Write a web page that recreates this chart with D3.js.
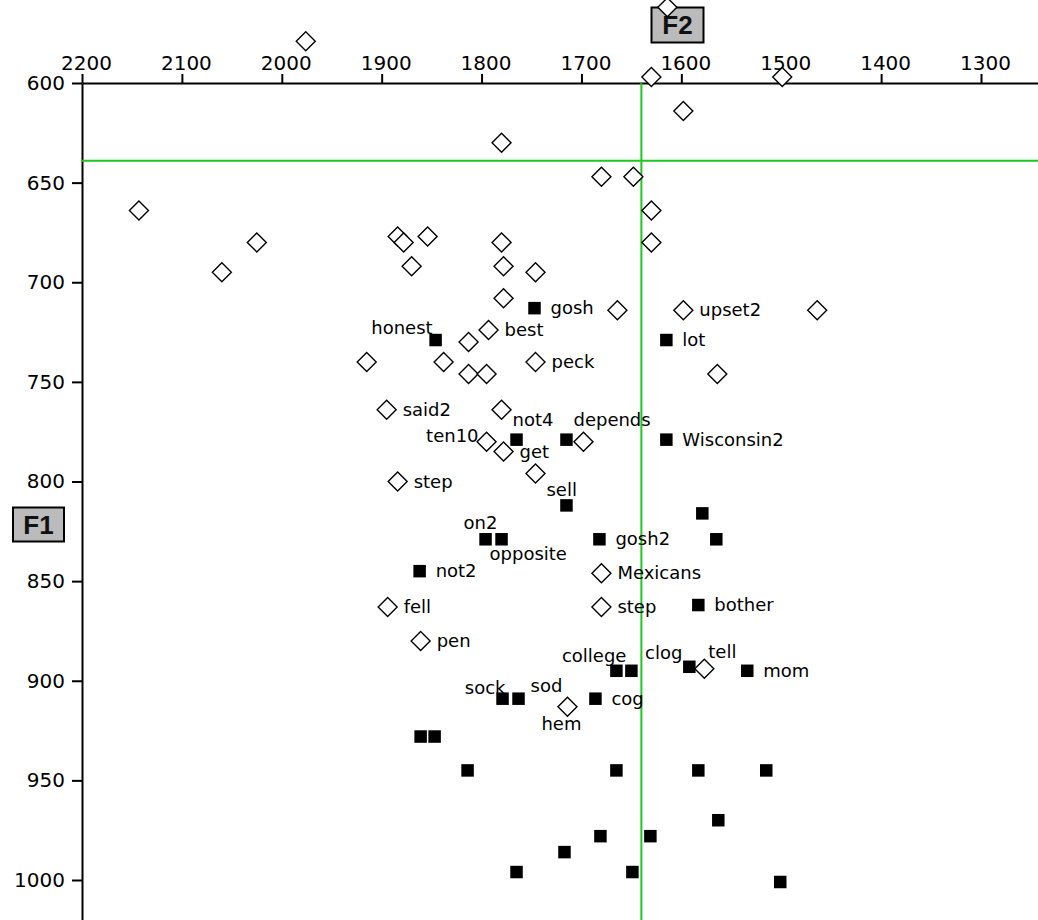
<!DOCTYPE html>
<html>
<head>
<meta charset="utf-8">
<script src="https://cdn.jsdelivr.net/npm/d3@7"></script>
<style>
  body { margin: 0; background: #fff; }
  svg { display: block; }
</style>
</head>
<body>
<svg id="chart" width="1038" height="920"></svg>
<script>
// ---------------- DATA ----------------
const xTicks = [2200, 2100, 2000, 1900, 1800, 1700, 1600, 1500, 1400, 1300];
const yTicks = [600, 650, 700, 750, 800, 850, 900, 950, 1000];
const xAxisTitle = "F2";
const yAxisTitle = "F1";
const refF2 = 1640;   // vertical green reference line
const refF1 = 639;    // horizontal green reference line

// open diamonds
const openLabels = ["", "", "", "", "", "", "", "", "", "",
                    "", "", "", "", "", "", "", "", "", "",
                    "", "", "upset2", "", "best", "", "", "", "", "",
                    "peck", "", "said2", "", "ten10", "get", "", "", "step", "Mexicans",
                    "step", "fell", "pen", "tell", "hem"];
const openF2 = [1976, 1614, 1630, 1499, 1598, 1780, 1680, 1648, 2143, 1630,
                1630, 2025, 2060, 1884, 1878, 1854, 1870, 1780, 1778, 1746,
                1778, 1664, 1598, 1464, 1793, 1813, 1915, 1838, 1813, 1795,
                1746, 1564, 1895, 1780, 1795, 1778, 1698, 1746, 1884, 1680,
                1680, 1894, 1861, 1577, 1714];
const openF1 = [579, 562, 597, 597, 614, 630, 647, 647, 664, 664,
                680, 680, 695, 677, 680, 677, 692, 680, 692, 695,
                708, 714, 714, 714, 724, 730, 740, 740, 746, 746,
                740, 746, 764, 764, 780, 785, 780, 796, 800, 846,
                863, 863, 880, 894, 913];

// filled squares
const filledLabels = ["gosh", "honest", "lot", "Wisconsin2", "not4", "depends", "sell", "on2", "opposite", "gosh2",
                      "not2", "", "", "bother", "college", "", "clog", "mom", "sock", "sod",
                      "cog", "", "", "", "", "", "", "", "", "",
                      "", "", "", ""];
const filledF2 = [1747, 1846, 1615, 1615, 1765, 1715, 1715, 1796, 1780, 1682,
                  1862, 1579, 1565, 1583, 1665, 1650, 1592, 1534, 1779, 1763,
                  1686, 1861, 1847, 1814, 1665, 1583, 1515, 1563, 1681, 1631,
                  1717, 1765, 1649, 1501];
const filledF1 = [713, 729, 729, 779, 779, 779, 812, 829, 829, 829,
                  845, 816, 829, 862, 895, 895, 893, 895, 909, 909,
                  909, 928, 928, 945, 945, 945, 945, 970, 978, 978,
                  986, 996, 996, 1001];

// ---------------- LAYOUT / STYLE ----------------
const W = 1038, H = 920;
const labelFont = "'DejaVu Sans', sans-serif";
// label placement relative to marker: [dx, baseline dy, anchor]
const labelPlace = {
  honest:   [-3, -6, "end"],
  not4:     [-4, -14, "start"],
  depends:  [7, -14, "start"],
  ten10:    [-8, 0, "end"],
  sell:     [-20, -9, "start"],
  on2:      [-22, -10, "start"],
  opposite: [-12, 21, "start"],
  college:  [10, -9, "end"],
  clog:     [-7, -8, "end"],
  tell:     [4, -11, "start"],
  sock:     [3, -5, "end"],
  sod:      [12, -7, "start"],
  hem:      [-26, 23, "start"]
};
const defaultPlace = [16, 6, "start"];

const svg = d3.select("#chart");

const x = d3.scaleLinear().domain([2200, 2200 - (W - 82) / 0.9989]).range([82, W]);
const y = d3.scaleLinear().domain([600, 600 + (H - 83) / 1.9925]).range([83, H]);

// axes
const xAxis = svg.append("g").attr("transform", "translate(0,83)")
  .call(d3.axisTop(x).tickValues(xTicks).tickSize(9).tickSizeOuter(0).tickPadding(4).tickFormat(d3.format("d")));
const yAxis = svg.append("g").attr("transform", "translate(82,0)")
  .call(d3.axisLeft(y).tickValues(yTicks).tickSize(10).tickSizeOuter(0).tickPadding(7).tickFormat(d3.format("d")));

[xAxis, yAxis].forEach(g => {
  g.attr("font-family", labelFont).attr("font-size", 20);
  g.select(".domain").attr("stroke", "#000").attr("stroke-width", 2);
  g.selectAll(".tick line").attr("stroke", "#000").attr("stroke-width", 2);
  g.selectAll(".tick text").attr("fill", "#000");
});
xAxis.selectAll(".tick text").attr("dx", 4);

// green reference lines
svg.append("line")
  .attr("x1", x(refF2)).attr("x2", x(refF2))
  .attr("y1", y(600)).attr("y2", H)
  .attr("stroke", "#1ec81e").attr("stroke-width", 2);
svg.append("line")
  .attr("x1", x(2200)).attr("x2", W)
  .attr("y1", y(refF1)).attr("y2", y(refF1))
  .attr("stroke", "#1ec81e").attr("stroke-width", 2);

// axis title boxes
function titleBox(cx, cy, w, h, txt) {
  const g = svg.append("g");
  g.append("rect").attr("x", cx - w / 2).attr("y", cy - h / 2).attr("width", w).attr("height", h)
    .attr("fill", "#bbbbbb").attr("stroke", "#000").attr("stroke-width", 2);
  g.append("text").attr("x", cx).attr("y", cy + 9).attr("text-anchor", "middle")
    .attr("font-family", "'Liberation Sans', Arial, sans-serif").attr("font-weight", "bold")
    .attr("font-size", 26).attr("fill", "#111").text(txt);
}
titleBox(677.5, 25, 52, 35, xAxisTitle);
titleBox(38.5, 524.5, 51, 34, yAxisTitle);

// data points
const openData = openF2.map((v, i) => ({ f2: v, f1: openF1[i], label: openLabels[i] }));
const filledData = filledF2.map((v, i) => ({ f2: v, f1: filledF1[i], label: filledLabels[i] }));

const R = 9.5;
svg.append("g").selectAll("path").data(openData).join("path")
  .attr("d", d => {
    const cx = x(d.f2), cy = y(d.f1);
    return `M${cx},${cy - R}L${cx + R},${cy}L${cx},${cy + R}L${cx - R},${cy}Z`;
  })
  .attr("fill", "#fff").attr("stroke", "#000").attr("stroke-width", 1.4);

const S = 12.5;
svg.append("g").selectAll("rect").data(filledData).join("rect")
  .attr("x", d => x(d.f2) - S / 2).attr("y", d => y(d.f1) - S / 2)
  .attr("width", S).attr("height", S).attr("fill", "#000");

// labels
const labelled = openData.concat(filledData).filter(d => d.label);
svg.append("g").selectAll("text").data(labelled).join("text")
  .attr("x", d => x(d.f2) + (labelPlace[d.label] || defaultPlace)[0])
  .attr("y", d => y(d.f1) + (labelPlace[d.label] || defaultPlace)[1])
  .attr("text-anchor", d => (labelPlace[d.label] || defaultPlace)[2])
  .attr("font-family", labelFont).attr("font-size", 18).attr("fill", "#000")
  .text(d => d.label);
</script>
</body>
</html>
